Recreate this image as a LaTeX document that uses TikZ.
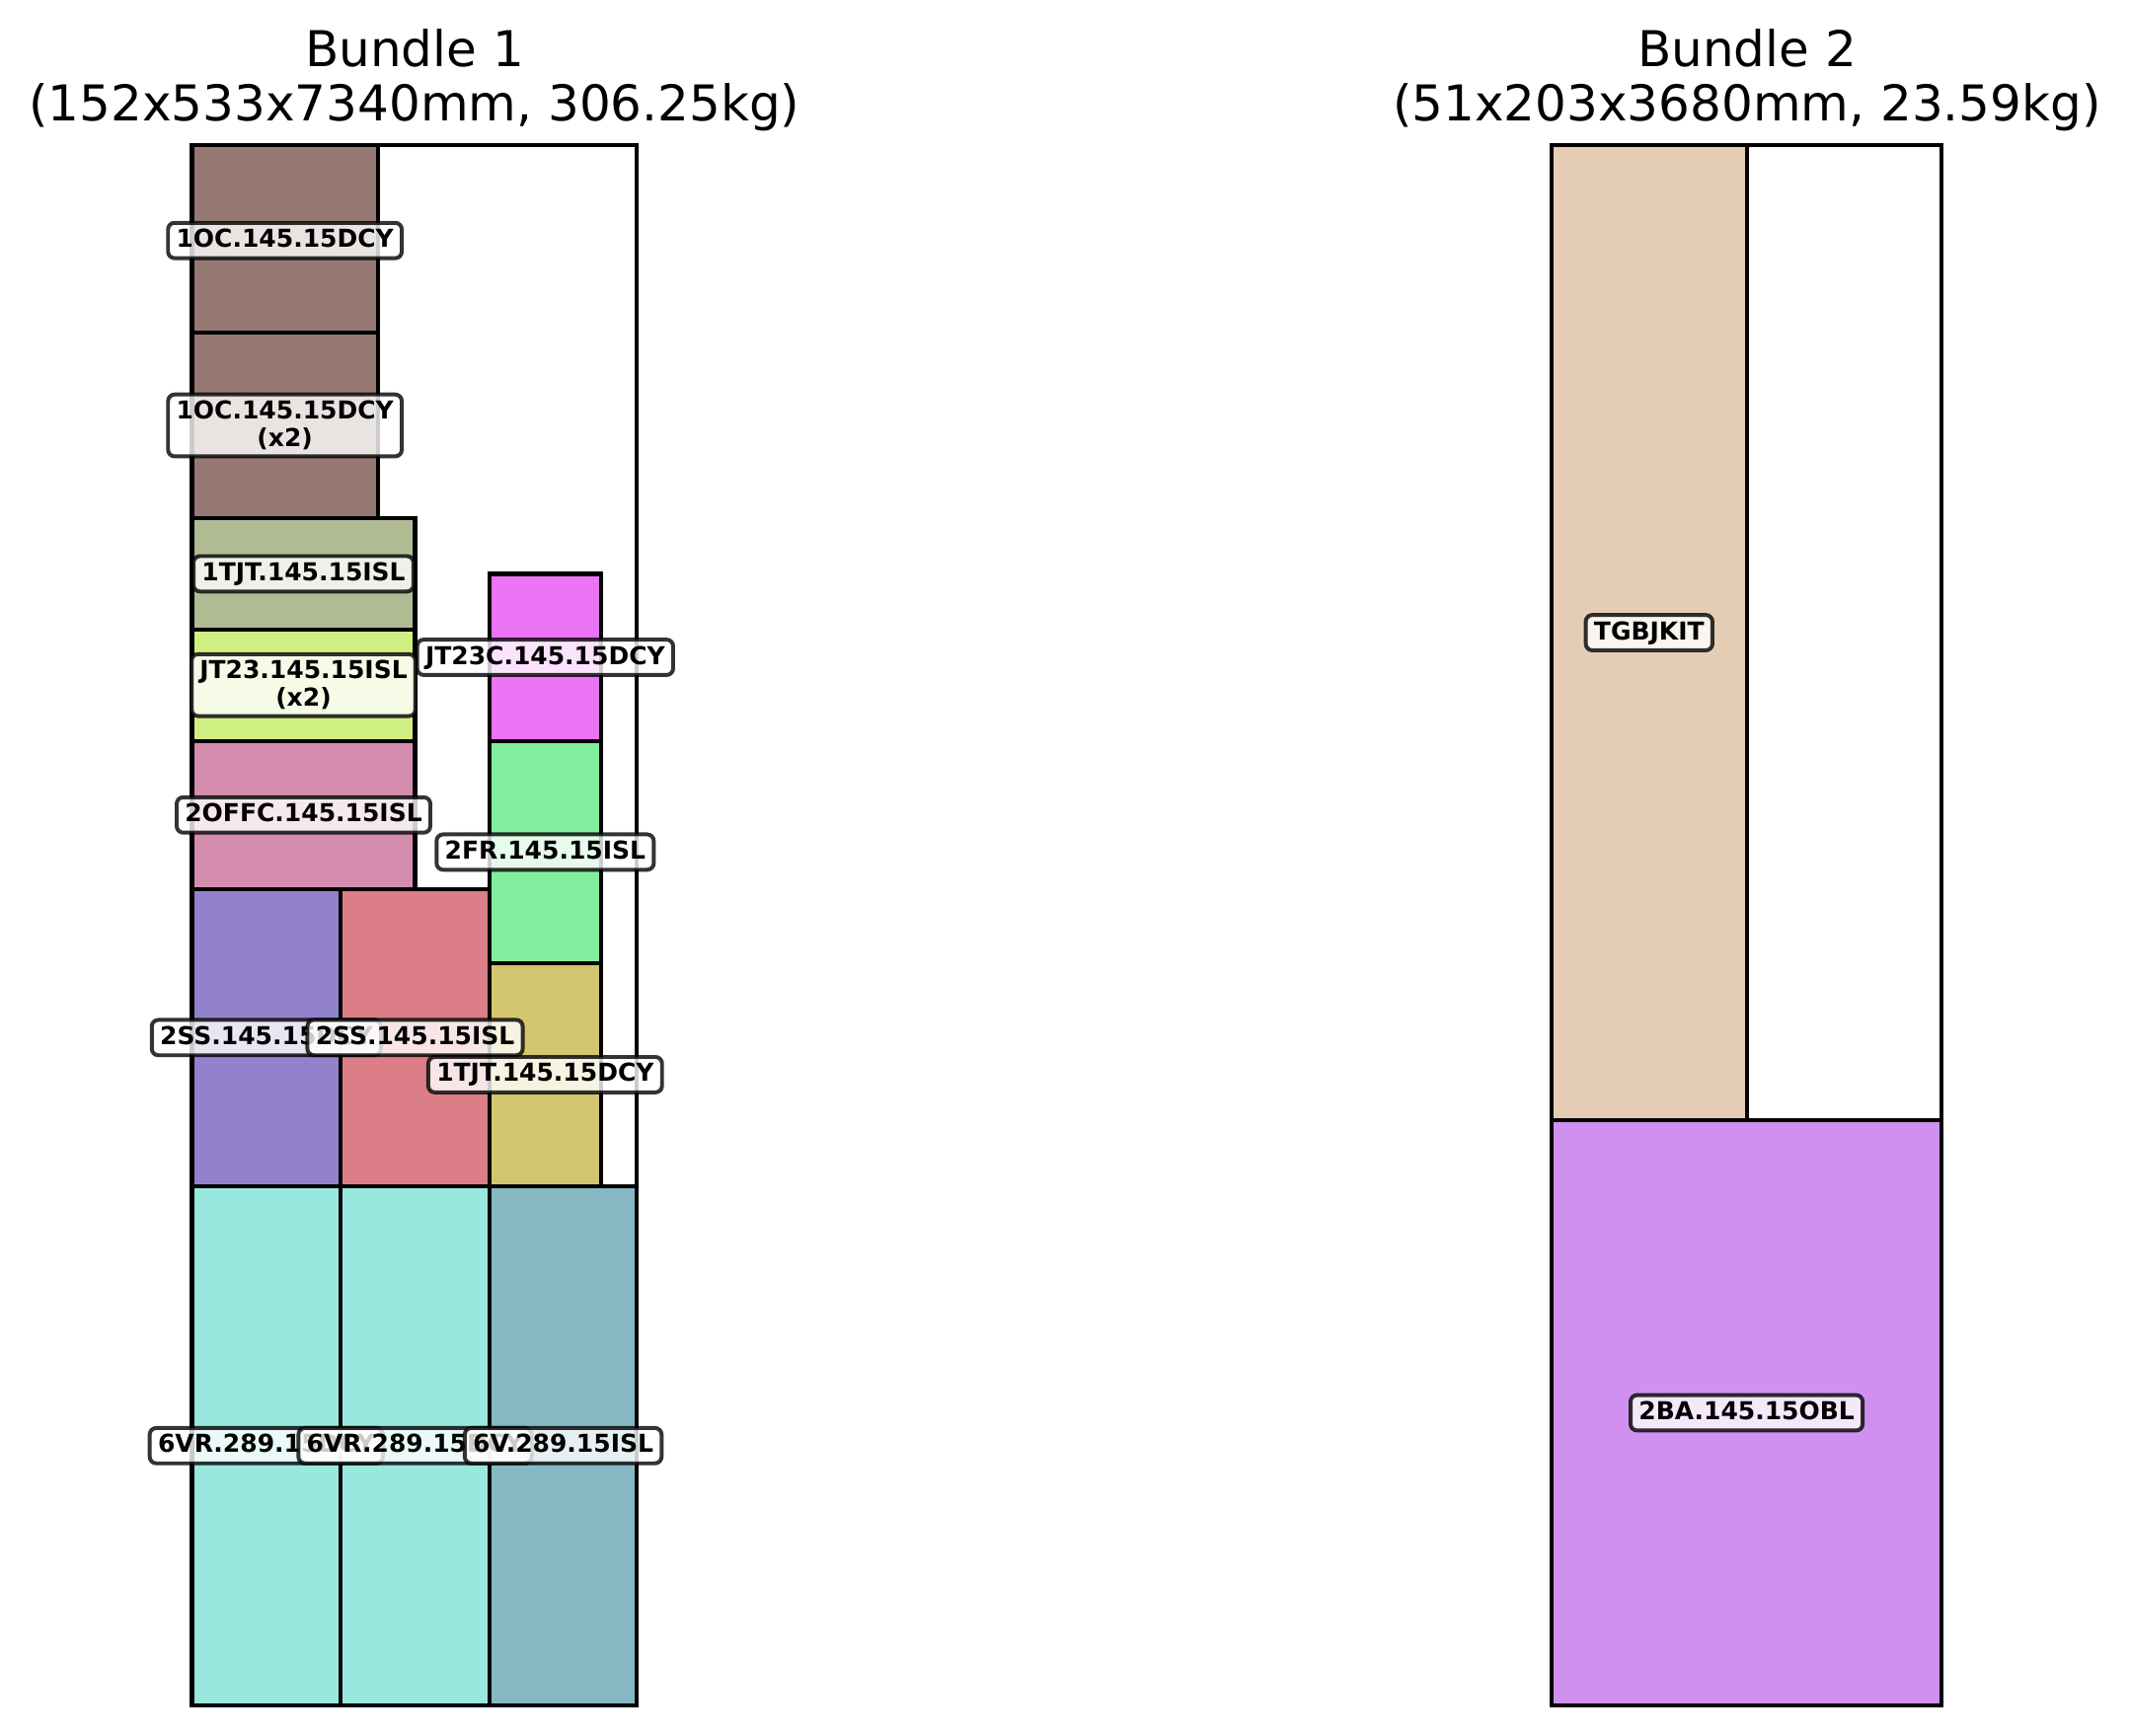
\documentclass[tikz,border=0pt]{standalone}
\usepackage{fontspec}
\setmainfont{DejaVu Sans}
\definecolor{cbrown}{HTML}{957872}
\definecolor{colive}{HTML}{B0BB94}
\definecolor{clime}{HTML}{D0EF83}
\definecolor{cpink}{HTML}{D48DAF}
\definecolor{cpurple}{HTML}{9282CC}
\definecolor{cred}{HTML}{DB7E88}
\definecolor{cmagenta}{HTML}{EB74F5}
\definecolor{cgreen}{HTML}{80EE9C}
\definecolor{cmustard}{HTML}{D3C56F}
\definecolor{ccyan}{HTML}{98E8DF}
\definecolor{cteal}{HTML}{86B8C4}
\definecolor{ctan}{HTML}{E5CDB5}
\definecolor{cviolet}{HTML}{CF90EF}
\begin{document}
\begin{tikzpicture}[x=0.24pt,y=-0.24pt,
  piece/.style={draw=black,line width=1pt},
  frame/.style={draw=black,line width=1pt},
  lblbase/.style={fill=white, fill opacity=0.8, text opacity=1, draw=black, draw opacity=0.8,
    line width=0.95pt, rounded corners=1.6pt, inner xsep=2pt, inner ysep=1.5pt},
  lbl/.style={lblbase, font=\bfseries\fontsize{6}{6.8}\selectfont, text height=4.5pt, text depth=1.1pt},
  lbltwo/.style={lblbase, font=\bfseries\fontsize{6}{6.8}\selectfont, align=center},
  ttl/.style={font=\fontsize{12}{14}\selectfont, anchor=base, inner sep=0pt}]
\useasboundingbox (0,0) rectangle (2157,1759);
\fill[white] (0,0) rectangle (2157,1759);

\node[ttl] (t1a) at (420,68) {Bundle 1};
\node[ttl] (t1b) at (420,123) {(152x533x7340mm, 306.25kg)};
\node[ttl] (t2a) at (1770,68) {Bundle 2};
\node[ttl] (t2b) at (1770,123) {(51x203x3680mm, 23.59kg)};

% Bundle 1
\begin{scope}[shift={(46.68pt,-414.72pt)}, x=0.71184pt, y=0.7104pt]
  \draw[frame] (0,0) rectangle (152,534);
  \draw[piece, fill=ccyan] (0,0) rectangle (50.8,177.8);
  \draw[piece, fill=ccyan] (50.8,0) rectangle (101.6,177.8);
  \draw[piece, fill=cteal] (101.6,0) rectangle (152,177.8);
  \draw[piece, fill=cpurple] (0,177.8) rectangle (50.8,279.4);
  \draw[piece, fill=cred] (50.8,177.8) rectangle (101.6,279.4);
  \draw[piece, fill=cmustard] (101.6,177.8) rectangle (139.7,254);
  \draw[piece, fill=cgreen] (101.6,254) rectangle (139.7,330.2);
  \draw[piece, fill=cmagenta] (101.6,330.2) rectangle (139.7,387.35);
  \draw[piece, fill=cpink] (0,279.4) rectangle (76.2,330.2);
  \draw[piece, fill=clime] (0,330.2) rectangle (76.2,368.3);
  \draw[piece, fill=colive] (0,368.3) rectangle (76.2,406.4);
  \draw[piece, fill=cbrown] (0,406.4) rectangle (63.5,469.9);
  \draw[piece, fill=cbrown] (0,469.9) rectangle (63.5,534);

  \node[lbl] (l1) at (25.4,88.9) {6VR.289.15DCY};
  \node[lbl] (l2) at (76.2,88.9) {6VR.289.15DCY};
  \node[lbl] (l3) at (126.8,88.9) {6V.289.15ISL};
  \node[lbl] (l4) at (25.4,228.6) {2SS.145.15DCY};
  \node[lbl] (l5) at (76.2,228.6) {2SS.145.15ISL};
  \node[lbl] (l6) at (120.65,215.9) {1TJT.145.15DCY};
  \node[lbl] (l7) at (120.65,292.1) {2FR.145.15ISL};
  \node[lbl] (l8) at (120.65,358.775) {JT23C.145.15DCY};
  \node[lbl] (l9) at (38.1,304.8) {2OFFC.145.15ISL};
  \node[lbltwo] (l10) at (38.1,349.25) {JT23.145.15ISL\\(x2)};
  \node[lbl] (l11) at (38.1,387.35) {1TJT.145.15ISL};
  \node[lbltwo] (l12) at (31.75,438.15) {1OC.145.15DCY\\(x2)};
  \node[lbl] (l13) at (31.75,501.45) {1OC.145.15DCY};
\end{scope}

% Bundle 2
\begin{scope}[shift={(377.28pt,-414.72pt)}, x=1.86732pt, y=1.86732pt]
  \draw[frame] (0,0) rectangle (50.8,203.2);
  \draw[piece, fill=ctan] (0,76.2) rectangle (25.4,203.2);
  \draw[piece, fill=cviolet] (0,0) rectangle (50.8,76.2);
  \node[lbl] (m1) at (12.7,139.7) {TGBJKIT};
  \node[lbl] (m2) at (25.4,38.1) {2BA.145.15OBL};
\end{scope}
\end{tikzpicture}
\end{document}
